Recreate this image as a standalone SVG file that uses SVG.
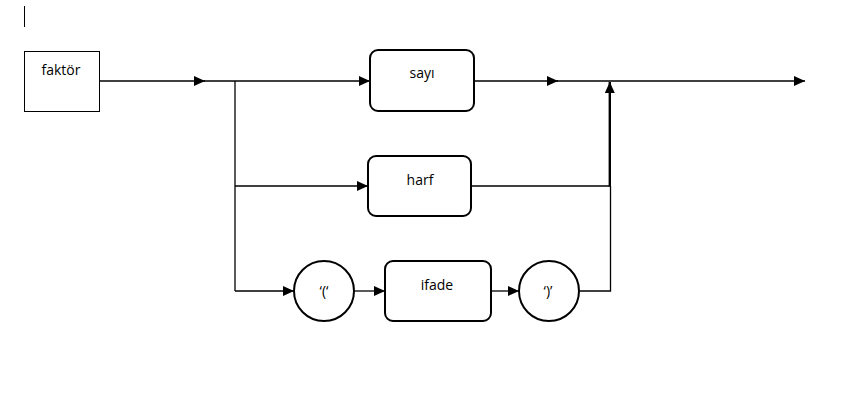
<svg xmlns="http://www.w3.org/2000/svg" width="853" height="407" viewBox="0 0 853 407">
<style>
.ln{stroke:#000;stroke-width:1.3;fill:none}
.lt{stroke:#000;stroke-width:2.4;fill:none}
.bx{stroke:#000;stroke-width:2;fill:#fff}
.sq{stroke:#000;stroke-width:1;fill:#fff}
.t{font-family:"Open Sans","Liberation Sans",sans-serif;font-size:14px;fill:#000;text-anchor:middle}
</style>
<defs>
<marker id="ah" markerUnits="userSpaceOnUse" markerWidth="12" markerHeight="10" refX="11" refY="5" orient="auto">
<path d="M0,0 L11,5 L0,10 Z" fill="#000"/>
</marker>
</defs>
<rect x="0" y="0" width="853" height="407" fill="#fff"/>
<line x1="24.5" y1="6" x2="24.5" y2="27" stroke="#000" stroke-width="1"/>
<g id="connectors">
<line class="ln" x1="99" y1="81" x2="205" y2="81" marker-end="url(#ah)"/>
<line class="ln" x1="204" y1="81" x2="370" y2="81" marker-end="url(#ah)"/>
<line class="ln" x1="235" y1="81" x2="235" y2="291"/>
<line class="ln" x1="235" y1="186" x2="368" y2="186" marker-end="url(#ah)"/>
<line class="ln" x1="235" y1="291" x2="294" y2="291" marker-end="url(#ah)"/>
<line class="ln" x1="355" y1="291" x2="385" y2="291" marker-end="url(#ah)"/>
<line class="ln" x1="491" y1="291" x2="519" y2="291" marker-end="url(#ah)"/>
<line class="ln" x1="474" y1="81" x2="558" y2="81" marker-end="url(#ah)"/>
<line class="ln" x1="557" y1="81" x2="805" y2="81" marker-end="url(#ah)"/>
<line class="ln" x1="471" y1="186" x2="610" y2="186"/>
<polyline class="ln" points="580,291 610.5,291 610.5,186"/>
<line class="lt" x1="609.8" y1="186.5" x2="609.8" y2="82" marker-end="url(#ah)"/>
</g>
<g id="faktor">
<rect class="sq" x="24.5" y="51.5" width="75" height="60"/>
<text class="t" x="61" y="75">faktör</text>
</g>
<g id="sayi">
<rect class="bx" x="370" y="50" width="104" height="61" rx="8"/>
<text class="t" x="422" y="78">sayı</text>
</g>
<g id="harf">
<rect class="bx" x="368" y="156" width="103" height="60" rx="8"/>
<text class="t" x="420" y="185">harf</text>
</g>
<g id="paren-open">
<circle class="bx" cx="324" cy="291" r="30"/>
<text class="t" x="324" y="296">‘(‘</text>
</g>
<g id="ifade">
<rect class="bx" x="385" y="261" width="106" height="60" rx="8"/>
<text class="t" x="437" y="290">ifade</text>
</g>
<g id="paren-close">
<circle class="bx" cx="549" cy="291" r="30"/>
<text class="t" x="548" y="296">‘)’</text>
</g>
</svg>
